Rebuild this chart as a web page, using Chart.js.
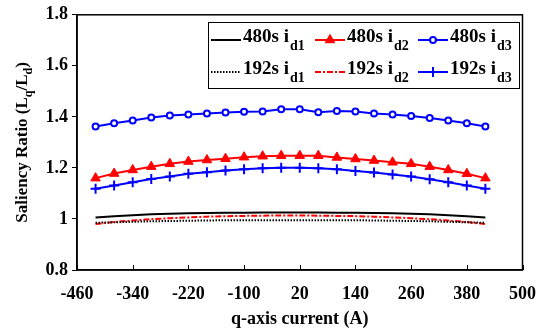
<!DOCTYPE html>
<html>
<head>
<meta charset="utf-8">
<script src="https://cdn.jsdelivr.net/npm/chart.js@4/dist/chart.umd.min.js"></script>
<style>
  html, body { margin: 0; padding: 0; background: #fff; }
  #wrap { width: 550px; height: 333px; }
</style>
</head>
<body>
<div id="wrap"><canvas id="ratioChart"></canvas></div>
<script>
"use strict"

// q-axis current (A)
const qCurrent = [-420, -380, -340, -300, -260, -220, -180, -140, -100, -60, -20,
  20, 60, 100, 140, 180, 220, 260, 300, 340, 380, 420];

// saliency ratio Lq/Ld
const s480id1 = [1.006, 1.011, 1.015, 1.018, 1.020, 1.022, 1.023, 1.024, 1.024, 1.025, 1.025,
  1.025, 1.025, 1.024, 1.024, 1.023, 1.022, 1.020, 1.018, 1.015, 1.011, 1.006];
const s480id2 = [1.160, 1.178, 1.192, 1.205, 1.216, 1.225, 1.231, 1.236, 1.242, 1.246, 1.248,
  1.248, 1.248, 1.241, 1.235, 1.229, 1.222, 1.216, 1.205, 1.192, 1.177, 1.160];
const s480id3 = [1.362, 1.375, 1.386, 1.398, 1.405, 1.409, 1.413, 1.417, 1.420, 1.421, 1.430,
  1.430, 1.418, 1.423, 1.421, 1.413, 1.409, 1.403, 1.396, 1.386, 1.375, 1.362];
const s192id1 = [0.985, 0.987, 0.989, 0.991, 0.992, 0.993, 0.994, 0.995, 0.995, 0.995, 0.995,
  0.995, 0.995, 0.995, 0.995, 0.994, 0.993, 0.992, 0.991, 0.989, 0.987, 0.985];
const s192id2 = [0.980, 0.988, 0.994, 0.999, 1.003, 1.006, 1.009, 1.011, 1.012, 1.013, 1.014,
  1.014, 1.013, 1.012, 1.011, 1.009, 1.006, 1.003, 0.999, 0.994, 0.988, 0.980];
const s192id3 = [1.118, 1.131, 1.144, 1.157, 1.166, 1.177, 1.183, 1.190, 1.195, 1.199, 1.201,
  1.201, 1.199, 1.195, 1.188, 1.182, 1.174, 1.166, 1.156, 1.144, 1.131, 1.118];

const xTicks = [-460, -340, -220, -100, 20, 140, 260, 380, 500];
const yTicks = [0.8, 1, 1.2, 1.4, 1.6, 1.8];

const SERIF = '"Liberation Serif", "Times New Roman", serif';

const pts = ys => ys.map((y, i) => ({x: qCurrent[i], y: y}));

const datasets = [
  {label: '480s', sub: 'd1', data: pts(s480id1), borderColor: '#000', borderWidth: 2,
    pointRadius: 0},
  {label: '480s', sub: 'd2', data: pts(s480id2), borderColor: '#f00', borderWidth: 2,
    pointStyle: 'triangle', pointRadius: 5.5, pointBackgroundColor: '#f00', pointBorderColor: '#f00', pointBorderWidth: 1},
  {label: '480s', sub: 'd3', data: pts(s480id3), borderColor: '#00f', borderWidth: 2,
    pointStyle: 'circle', pointRadius: 3, pointBackgroundColor: '#fff', pointBorderColor: '#00f', pointBorderWidth: 2},
  {label: '192s', sub: 'd1', data: pts(s192id1), borderColor: '#000', borderWidth: 2,
    borderDash: [1.5, 1.5], pointRadius: 0},
  {label: '192s', sub: 'd2', data: pts(s192id2), borderColor: '#f00', borderWidth: 2,
    borderDash: [6, 2, 2, 2], pointRadius: 0},
  {label: '192s', sub: 'd3', data: pts(s192id3), borderColor: '#00f', borderWidth: 2,
    pointStyle: 'cross', pointRadius: 5, pointBorderColor: '#00f', pointBorderWidth: 2}
];
datasets.forEach(ds => { ds.fill = false; ds.tension = 0; });

// box round the plot + inward x ticks
const framePlugin = {
  id: 'frame',
  afterDatasetsDraw(chart) {
    const {ctx, chartArea: a, scales} = chart;
    ctx.save();
    ctx.strokeStyle = '#000';
    ctx.lineWidth = 1.5;
    ctx.strokeRect(a.left, a.top, a.right - a.left, a.bottom - a.top);
    ctx.lineWidth = 1;
    xTicks.forEach(v => {
      const x = Math.round(scales.x.getPixelForValue(v)) + 0.5;
      ctx.beginPath();
      ctx.moveTo(x, a.bottom);
      ctx.lineTo(x, a.bottom - 5);
      ctx.stroke();
    });
    ctx.restore();
  }
};

// y title with subscripts
const yTitlePlugin = {
  id: 'yTitle',
  afterDraw(chart) {
    const {ctx, chartArea: a} = chart;
    const parts = [['Saliency Ratio (L', 0], ['q', 1], ['/L', 0], ['d', 1], [')', 0]];
    const big = 'bold 17px ' + SERIF, small = 'bold 12px ' + SERIF;
    let total = 0;
    parts.forEach(p => { ctx.font = p[1] ? small : big; total += ctx.measureText(p[0]).width; });
    ctx.save();
    ctx.translate(27, (a.top + a.bottom) / 2);
    ctx.rotate(-Math.PI / 2);
    ctx.fillStyle = '#000';
    ctx.textBaseline = 'alphabetic';
    let x = -total / 2;
    parts.forEach(p => {
      ctx.font = p[1] ? small : big;
      ctx.fillText(p[0], x, p[1] ? 5 : 0);
      x += ctx.measureText(p[0]).width;
    });
    ctx.restore();
  }
};

// legend box, 3 columns x 2 rows
const legendPlugin = {
  id: 'boxLegend',
  afterDraw(chart) {
    const ctx = chart.ctx;
    const box = {x: 208, y: 22, w: 311, h: 66};
    const cols = [211, 315, 418];
    const rows = [40, 72];
    ctx.save();
    ctx.fillStyle = '#fff';
    ctx.fillRect(box.x, box.y, box.w, box.h);
    ctx.strokeStyle = '#000';
    ctx.lineWidth = 1;
    ctx.strokeRect(box.x + 0.5, box.y + 0.5, box.w, box.h);
    datasets.forEach((ds, i) => {
      const x0 = cols[i % 3], y = rows[Math.floor(i / 3)];
      ctx.strokeStyle = ds.borderColor;
      ctx.lineWidth = ds.borderWidth;
      ctx.setLineDash(ds.borderDash || []);
      ctx.beginPath();
      ctx.moveTo(x0, y);
      ctx.lineTo(x0 + 30, y);
      ctx.stroke();
      ctx.setLineDash([]);
      if (ds.pointRadius > 0) {
        ctx.fillStyle = ds.pointBackgroundColor || ds.pointBorderColor;
        ctx.strokeStyle = ds.pointBorderColor;
        ctx.lineWidth = ds.pointBorderWidth;
        Chart.helpers.drawPoint(ctx, {pointStyle: ds.pointStyle, radius: ds.pointRadius,
          rotation: 0, borderWidth: ds.pointBorderWidth}, x0 + 15, y);
      }
      ctx.fillStyle = '#000';
      ctx.font = 'bold 19px ' + SERIF;
      const t = ds.label + ' i';
      ctx.fillText(t, x0 + 32, y + 2);
      const w = ctx.measureText(t).width;
      ctx.font = 'bold 14px ' + SERIF;
      ctx.fillText(ds.sub, x0 + 33 + w, y + 10);
    });
    ctx.restore();
  }
};

new Chart(document.getElementById('ratioChart'), {
  type: 'line',
  data: {datasets: datasets},
  plugins: [framePlugin, yTitlePlugin, legendPlugin],
  options: {
    responsive: true,
    maintainAspectRatio: false,
    animation: false,
    layout: {padding: {left: 0, top: 13, right: 23, bottom: 0}},
    plugins: {legend: {display: false}, tooltip: {enabled: false}},
    scales: {
      x: {
        type: 'linear',
        min: -460, max: 500,
        afterFit: s => { s.height = 63; },
        afterBuildTicks: s => { s.ticks = xTicks.map(v => ({value: v})); },
        grid: {display: true, drawOnChartArea: false, drawTicks: false},
        border: {display: true, color: '#000', width: 1.5},
        ticks: {color: '#000', padding: 14, maxRotation: 0, autoSkip: false,
          font: {family: SERIF, size: 18, weight: 'bold'}},
        title: {display: true, text: 'q-axis current (A)', color: '#000',
          padding: {top: 2, bottom: 3}, font: {family: SERIF, size: 18, weight: 'bold'}}
      },
      y: {
        min: 0.8, max: 1.8,
        afterFit: s => { s.width = 77; },
        afterBuildTicks: s => { s.ticks = yTicks.map(v => ({value: v})); },
        grid: {display: true, drawOnChartArea: false, drawTicks: true, tickLength: 5, color: '#000'},
        border: {display: true, color: '#000', width: 1.5},
        ticks: {color: '#000', padding: 4, autoSkip: false,
          callback: v => String(Math.round(v * 10) / 10),
          font: {family: SERIF, size: 18, weight: 'bold'}}
      }
    }
  }
});
</script>
</body>
</html>
